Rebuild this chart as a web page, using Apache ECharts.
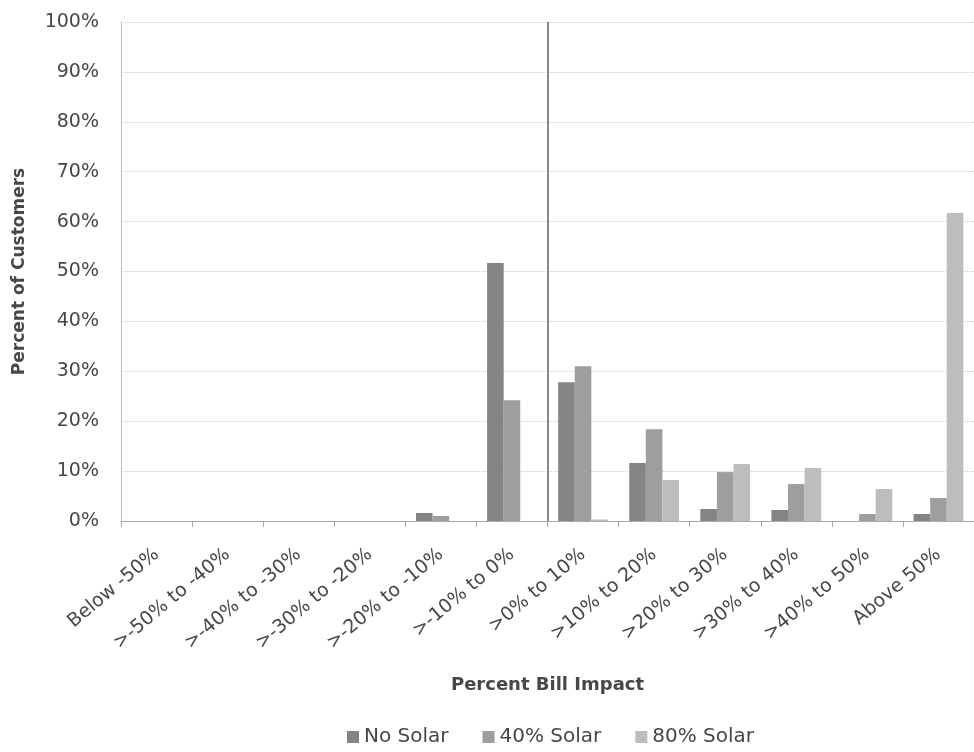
<!DOCTYPE html>
<html>
<head>
<meta charset="utf-8">
<script src="https://cdn.jsdelivr.net/npm/echarts@6/dist/echarts.min.js"></script>
<style>
html,body{margin:0;padding:0;background:#fff;}
#chart{width:974px;height:752px;}
</style>
</head>
<body>
<div id="chart"></div>
<script>
var categories = ["Below -50%", ">-50% to -40%", ">-40% to -30%", ">-30% to -20%", ">-20% to -10%", ">-10% to 0%", ">0% to 10%", ">10% to 20%", ">20% to 30%", ">30% to 40%", ">40% to 50%", "Above 50%"];
var noSolar = [0, 0, 0, 0, 1.6, 51.7, 27.8, 11.6, 2.4, 2.2, 0, 1.4];
var solar40 = [0, 0, 0, 0, 1.0, 24.2, 31.0, 18.4, 9.8, 7.4, 1.4, 4.6];
var solar80 = [0, 0, 0, 0, 0, 0, 0.3, 8.2, 11.4, 10.6, 6.4, 61.7];
var yTicks = [0, 10, 20, 30, 40, 50, 60, 70, 80, 90, 100];
var dividerPosition = [6];

var font = "DejaVu Sans";
var textColor = "#474747";
var chart = echarts.init(document.getElementById('chart'), null, {renderer: 'canvas'});
chart.setOption({
  animation: false,
  backgroundColor: '#fff',
  textStyle: {fontFamily: font},
  grid: {left: 121, top: 22, right: -5, bottom: 231, containLabel: false},
  legend: {
    bottom: 0, left: 342,
    itemWidth: 12, itemHeight: 12, itemGap: 34,
    icon: 'rect',
    textStyle: {fontFamily: font, fontSize: 20, color: textColor},
    data: ['No Solar', '40% Solar', '80% Solar']
  },
  xAxis: [{
    type: 'category',
    data: categories,
    name: 'Percent Bill Impact',
    nameLocation: 'middle',
    nameGap: 155,
    nameTextStyle: {fontFamily: font, fontSize: 18, fontWeight: 'bold', color: textColor},
    axisLine: {lineStyle: {color: '#aaa', width: 1}},
    axisTick: {show: true, length: 6, lineStyle: {color: '#aaa'}},
    axisLabel: {rotate: 40, fontFamily: font, fontSize: 19, color: textColor, margin: 31, interval: 0},
    splitLine: {show: false}
  }, {
    type: 'value',
    min: 0, max: categories.length,
    show: false,
    splitLine: {show: false}
  }],
  yAxis: {
    type: 'value',
    min: 0, max: 100, interval: 10,
    name: 'Percent of Customers',
    nameLocation: 'middle',
    nameGap: 93,
    nameTextStyle: {fontFamily: font, fontSize: 17, fontWeight: 'bold', color: textColor},
    axisLine: {show: true, lineStyle: {color: '#bbb', width: 1}},
    axisTick: {show: false},
    axisLabel: {
      fontFamily: font, fontSize: 19, color: textColor, margin: 22,
      formatter: function (v) { return yTicks.indexOf(v) >= 0 ? v + '%' : ''; }
    },
    splitLine: {show: true, lineStyle: {color: '#ccc', type: 'dotted', width: 1}}
  },
  series: [
    {name: 'No Solar', type: 'bar', data: noSolar, barGap: '0%', barCategoryGap: '30%', itemStyle: {color: '#848484'}},
    {name: '40% Solar', type: 'bar', data: solar40, itemStyle: {color: '#9e9e9e'}},
    {name: '80% Solar', type: 'bar', data: solar80, itemStyle: {color: '#bdbdbd'}},
    {
      name: 'divider', type: 'line', xAxisIndex: 1, data: [], silent: true,
      markLine: {
        silent: true, symbol: ['none', 'none'], label: {show: false},
        lineStyle: {color: '#888', width: 2, type: 'solid'},
        data: dividerPosition.map(function (p) { return {xAxis: p}; })
      }
    }
  ]
});
</script>
</body>
</html>
